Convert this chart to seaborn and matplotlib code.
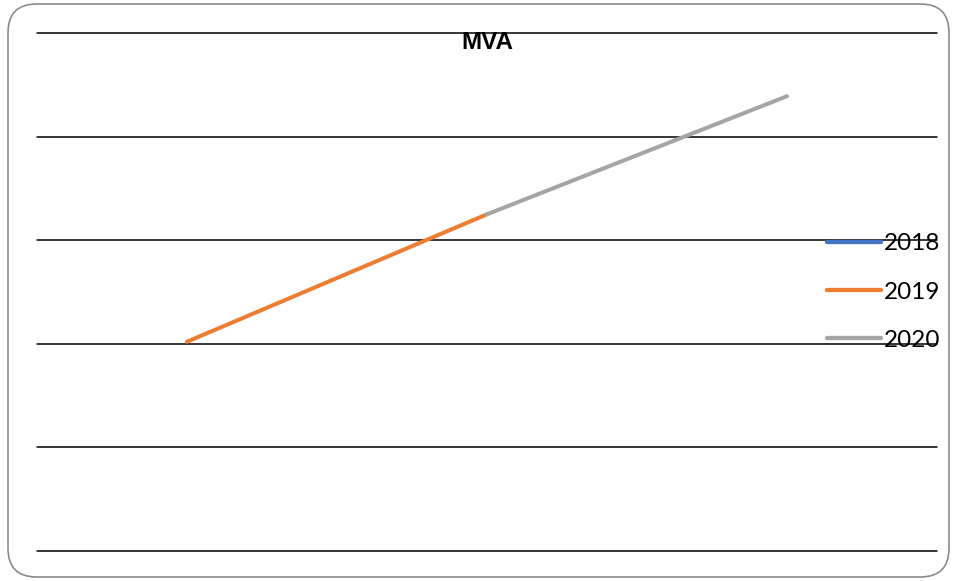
import matplotlib
matplotlib.use("Agg")
import matplotlib.pyplot as plt
from matplotlib.patches import FancyBboxPatch
from matplotlib.lines import Line2D
import seaborn as sns
import pandas as pd

# Data: one value per year; each year's segment is coloured by its end point
years = ["2018", "2019", "2020"]
values = [2.02, 3.25, 4.39]
colors = ["#4472C4", "#ED7D31", "#A5A5A5"]
title = "MVA"

sns.set_theme(style="white")
plt.rcParams["font.family"] = ["Liberation Sans", "DejaVu Sans"]
plt.rcParams["text.color"] = "black"

# Build segments: each year connects the previous point to its own point
rows = []
for i, yr in enumerate(years):
    start = max(i - 1, 0)
    for j in range(start, i + 1):
        rows.append({"x": j, "value": values[j], "year": yr})
df = pd.DataFrame(rows)

fig = plt.figure(figsize=(9.55, 5.81), dpi=100)
ax = fig.add_axes([37 / 955, 1 - 551 / 581, 900 / 955, 518 / 581])

sns.lineplot(data=df, x="x", y="value", hue="year", hue_order=years,
             palette=colors, linewidth=2.9, ax=ax, legend=False,
             estimator=None, sort=False, solid_capstyle="round")

ax.set_xlim(-0.5, len(years) - 0.5)
ax.set_ylim(0, 5)
ax.set_yticks(range(0, 6))
ax.set_xticks([])
ax.yaxis.grid(True, color="black", linewidth=1.1)
for gl in ax.yaxis.get_gridlines():
    gl.set_clip_on(False)
ax.set_axisbelow(True)
ax.tick_params(left=False, bottom=False, labelleft=False, labelbottom=False)
for s in ax.spines.values():
    s.set_visible(False)
ax.set_xlabel("")
ax.set_ylabel("")
ax.patch.set_alpha(0)

# Legend with one line handle per year
handles = [Line2D([0], [0], color=c, lw=3.1) for c in colors]
leg = fig.legend(handles, years, loc="center left",
                 bbox_to_anchor=(827 / 955, 1 - 292 / 581),
                 frameon=False, prop={"family": "Lato", "size": 17.5},
                 handlelength=2.22, handletextpad=0.12, labelspacing=1.13,
                 borderaxespad=0, borderpad=0)
for t in leg.get_texts():
    t.set_color("black")

fig.text(487 / 955, 1 - 31 / 581, title, ha="center", va="top",
         fontsize=17.5, fontweight="bold", color="black")

# Rounded outer frame
frame = FancyBboxPatch((8 / 955, 4 / 581), 941 / 955, 573 / 581,
                       boxstyle="round,pad=0,rounding_size=0.03",
                       transform=fig.transFigure, facecolor="none",
                       edgecolor="#8c8c8c", linewidth=1.2,
                       mutation_aspect=955 / 581)
fig.patches.append(frame)

fig.savefig("out.png", dpi=100, facecolor="white")
